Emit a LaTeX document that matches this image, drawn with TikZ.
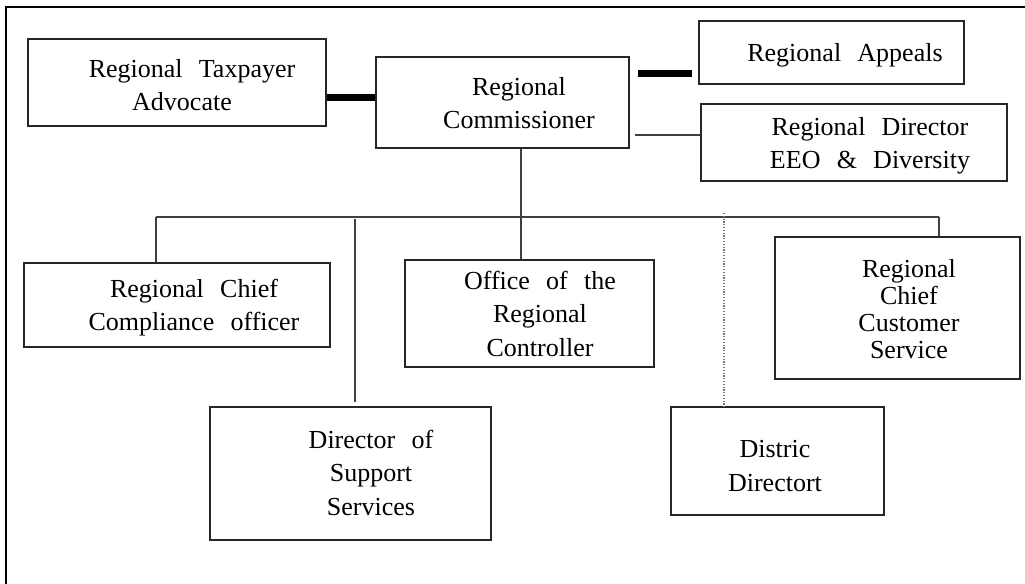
\documentclass[tikz,border=0pt]{standalone}
\usepackage{fontspec}
\setmainfont{Liberation Serif}[WordSpace={2.5,1,1}]
\begin{document}
\begin{tikzpicture}[x=0.5pt,y=-0.5pt,
  box/.style={draw=black!85, line width=0.75pt, inner sep=0pt, rectangle},
  txt/.style={font=\fontsize{13}{16.75}\selectfont, align=center, inner sep=0pt, anchor=base},
  bus/.style={draw=black!75, line width=0.6pt},
  heavy/.style={line width=3.5pt}]
\useasboundingbox (0,0) rectangle (1025,584);
\draw[line width=1.2pt] (1025,7) -- (6,7) -- (6,584);

% boxes
\node[box, minimum width=149pt, minimum height=43.5pt] (adv) at (177,82.5) {};
\node[box, minimum width=126.5pt, minimum height=45.5pt] (com) at (502.5,102.5) {};
\node[box, minimum width=132.5pt, minimum height=31.5pt] (app) at (831.5,52.5) {};
\node[box, minimum width=153pt, minimum height=38.5pt] (eeo) at (854,142.5) {};
\node[box, minimum width=153pt, minimum height=42pt] (cco) at (177,305) {};
\node[box, minimum width=124.5pt, minimum height=53.5pt] (ctl) at (529.5,313.5) {};
\node[box, minimum width=122.5pt, minimum height=71pt] (ccs) at (897.5,308) {};
\node[box, minimum width=140.5pt, minimum height=66.5pt] (sup) at (350.5,473.5) {};
\node[box, minimum width=106.5pt, minimum height=54pt] (dis) at (777.5,461) {};

% texts (base anchor = baseline of the last line)
\node[txt] (advt) at (188,110.5) {\hspace*{4pt}Regional Taxpayer\\Advocate\hspace*{6pt}};
\node[txt] (comt) at (519,128.5) {Regional\\Commissioner};
\node[txt] (appt) at (845,61) {Regional Appeals};
\node[txt] (eeot) at (870,168.5) {Regional Director\\EEO \& Diversity};
\node[txt] (ccot) at (194,330.5) {Regional Chief\\Compliance officer};
\node[txt, font=\fontsize{13}{13.5}\selectfont] (ccst) at (909,358) {Regional\\Chief\\Customer\\Service};
\node[txt] (ctlt) at (540,356) {Office of the\\Regional\\Controller};
\node[txt] (supt) at (371,515) {Director of\\Support\\Services};
\node[txt] (dist) at (775,491) {Distric\\Directort};

% connectors
\coordinate (bL) at (156,217);
\coordinate (bR) at (939,217);
\coordinate (vC) at (521,217);
\coordinate (sT) at (355,219);
\coordinate (dT) at (724,213);
\coordinate (e1) at (635,135);
\coordinate (h1) at (326,97);
\coordinate (h2) at (638,73);

\draw[bus] (bL) -- (bR);
\draw[bus] (bL) -- (bL |- cco.north);
\draw[bus] (bR) -- (bR |- ccs.north);
\draw[bus] (vC |- com.south) -- (vC |- ctl.north);
\draw[bus] (sT) -- ([yshift=2pt]sT |- sup.north);
\draw[bus, draw=black!55, dash pattern=on 0.6pt off 0.8pt] (dT) -- (dT |- dis.north);
\draw[bus] (e1) -- (e1 -| eeo.west);
\draw[heavy] (adv.east |- h1) -- (com.west |- h1);
\draw[heavy] (h2) -- ([xshift=-3pt]h2 -| app.west);
\end{tikzpicture}
\end{document}
